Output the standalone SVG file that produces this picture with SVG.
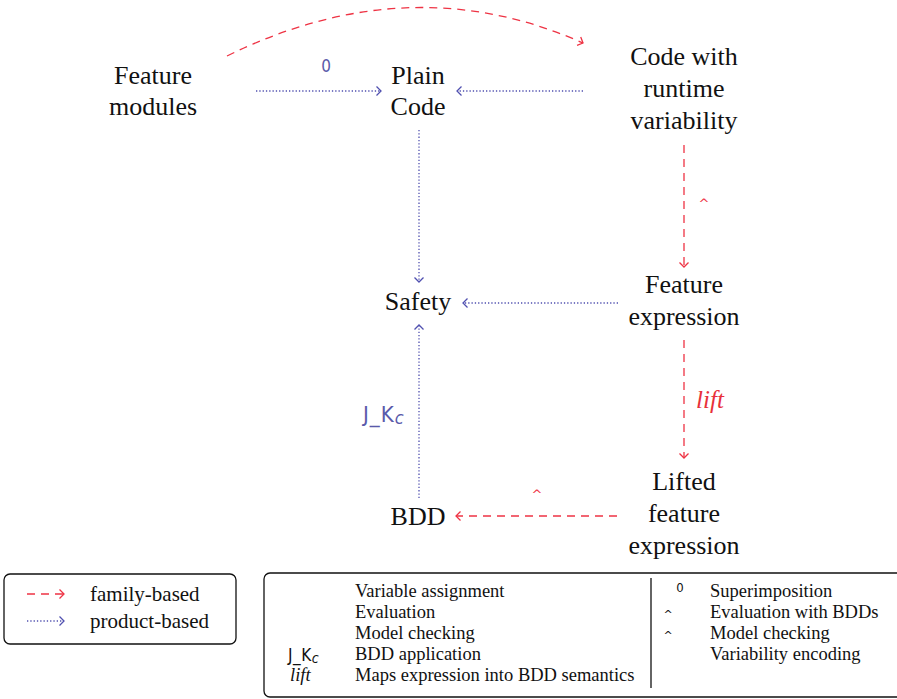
<svg xmlns="http://www.w3.org/2000/svg" width="897" height="699" viewBox="0 0 897 699">
<style>
.node{font-family:"Liberation Serif","DejaVu Serif",serif;font-size:26px;fill:#111;text-anchor:middle}
.fam{fill:none;stroke:#ee3344;stroke-width:1.3;stroke-dasharray:8,6}
.prod{fill:none;stroke:#5050b0;stroke-width:1.3;stroke-dasharray:1.3,2}
.lbl{font-family:"DejaVu Sans Condensed","DejaVu Sans",sans-serif;fill:#5a5aaa}
.leg{font-family:"Liberation Serif","DejaVu Serif",serif;font-size:21px;fill:#111}
.tab{font-family:"Liberation Serif","DejaVu Serif",serif;font-size:18.5px;fill:#111}
.box{fill:none;stroke:#111;stroke-width:1.3}
</style>
<defs>
<marker id="ar" markerUnits="userSpaceOnUse" viewBox="-6 -6 8 12" markerWidth="8" markerHeight="12" refX="0" refY="0" orient="auto">
<path d="M-4.5,-4.5 L0,0 L-4.5,4.5" fill="none" stroke="#ee3344" stroke-width="1.3"/>
</marker>
<marker id="ab" markerUnits="userSpaceOnUse" viewBox="-6 -6 8 12" markerWidth="8" markerHeight="12" refX="0" refY="0" orient="auto">
<path d="M-4.5,-4.5 L0,0 L-4.5,4.5" fill="none" stroke="#5050b0" stroke-width="1.3"/>
</marker>
</defs>

<g id="connectors">
<path class="fam" d="M227,56 Q410,-34 583,43" marker-end="url(#ar)"/>
<path class="prod" d="M256,91 L381,91" marker-end="url(#ab)"/>
<path class="prod" d="M583,91 L457,91" marker-end="url(#ab)"/>
<path class="prod" d="M419,130 L419,282" marker-end="url(#ab)"/>
<path class="prod" d="M618,303 L463,303" marker-end="url(#ab)"/>
<path class="prod" d="M419,498 L419,325" marker-end="url(#ab)"/>
<path class="fam" d="M684,145 L684,267" marker-end="url(#ar)"/>
<path class="fam" d="M684,340 L684,458" marker-end="url(#ar)"/>
<path class="fam" d="M617,516 L456,516" marker-end="url(#ar)"/>
<text class="lbl" x="326" y="72" font-size="17" text-anchor="middle">0</text>
<text class="lbl" x="363" y="422" font-size="22" letter-spacing="1">J_K<tspan font-size="18" font-style="italic" dy="2">c</tspan></text>
<text x="704" y="208" font-family="DejaVu Sans,sans-serif" font-size="13" fill="#ee3344" text-anchor="middle">^</text>
<text x="537" y="499" font-family="DejaVu Sans,sans-serif" font-size="13" fill="#ee3344" text-anchor="middle">^</text>
<text x="710" y="408" font-family="'Liberation Serif','DejaVu Serif',serif" font-style="italic" font-size="25" fill="#e8303a" text-anchor="middle">lift</text>
</g>

<g id="feature-modules"><text class="node" x="153" y="84">Feature</text><text class="node" x="153" y="115">modules</text></g>
<g id="plain-code"><text class="node" x="418" y="84">Plain</text><text class="node" x="418" y="115">Code</text></g>
<g id="runtime-variability"><text class="node" x="684" y="65">Code with</text><text class="node" x="684" y="97">runtime</text><text class="node" x="684" y="129">variability</text></g>
<g id="safety"><text class="node" x="418" y="310">Safety</text></g>
<g id="feature-expression"><text class="node" x="684" y="293">Feature</text><text class="node" x="684" y="325">expression</text></g>
<g id="bdd"><text class="node" x="418" y="525">BDD</text></g>
<g id="lifted-feature-expression"><text class="node" x="684" y="490">Lifted</text><text class="node" x="684" y="522">feature</text><text class="node" x="684" y="554">expression</text></g>

<g id="legend-arrows">
<rect class="box" x="4" y="574" width="232" height="70" rx="6"/>
<path class="fam" d="M27,594 L64,594" stroke-dasharray="8,5" marker-end="url(#ar)"/>
<path class="prod" d="M27,621 L64,621" marker-end="url(#ab)"/>
<text class="leg" x="90" y="601">family-based</text>
<text class="leg" x="90" y="628">product-based</text>
</g>

<g id="legend-table">
<rect class="box" x="264" y="573" width="660" height="124" rx="6"/>
<line x1="651" y1="578" x2="651" y2="688" stroke="#111" stroke-width="1.3"/>
<text class="tab" x="355" y="597">Variable assignment</text>
<text class="tab" x="355" y="618">Evaluation</text>
<text class="tab" x="355" y="639">Model checking</text>
<text x="288" y="661" font-family="'DejaVu Sans Condensed','DejaVu Sans',sans-serif" font-size="17" fill="#111" letter-spacing="0.5">J_K<tspan font-size="14" font-style="italic" dy="2">c</tspan></text>
<text class="tab" x="355" y="660">BDD application</text>
<text class="tab" x="290" y="681" font-style="italic">lift</text>
<text class="tab" x="355" y="681">Maps expression into BDD semantics</text>
<text x="680" y="592" font-family="'DejaVu Sans Condensed','DejaVu Sans',sans-serif" font-size="13" fill="#111" text-anchor="middle">0</text>
<text x="668" y="618" font-family="DejaVu Sans,sans-serif" font-size="11" fill="#111" text-anchor="middle">^</text>
<text x="668" y="639" font-family="DejaVu Sans,sans-serif" font-size="11" fill="#111" text-anchor="middle">^</text>
<text class="tab" x="710" y="597">Superimposition</text>
<text class="tab" x="710" y="618">Evaluation with BDDs</text>
<text class="tab" x="710" y="639">Model checking</text>
<text class="tab" x="710" y="660">Variability encoding</text>
</g>
</svg>
